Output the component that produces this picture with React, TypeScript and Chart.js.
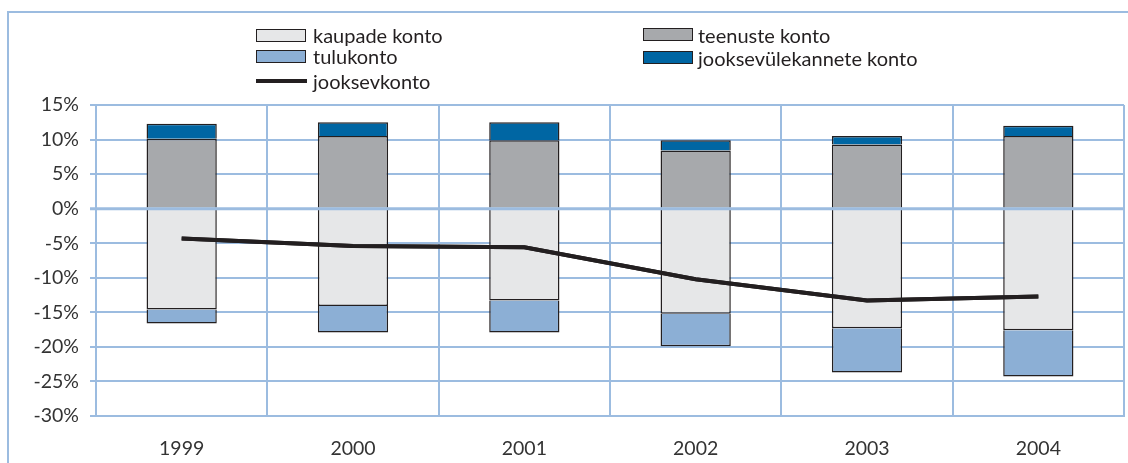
import React, { useEffect, useRef } from "react";
import { Chart, registerables } from "chart.js";

Chart.register(...registerables);

const years = ["1999", "2000", "2001", "2002", "2003", "2004"];
const kaupadeKonto = [-14.6, -14.1, -13.3, -15.2, -17.3, -17.6];
const teenusteKonto = [10.1, 10.5, 9.9, 8.4, 9.3, 10.5];
const tulukonto = [-2.0, -3.8, -4.6, -4.7, -6.4, -6.7];
const jooksevylekanneteKonto = [2.2, 2.0, 2.6, 1.5, 1.2, 1.5];
const jooksevkonto = [-4.3, -5.4, -5.6, -10.2, -13.3, -12.7];
const yMin = -30;
const yMax = 15;
const yStep = 5;

const GRID = "#9cbce0";
const INK = "#231f20";
const FONT = "Lato, 'Open Sans', sans-serif";

const C_KAUP = "#e6e7e8";
const C_TEEN = "#a7a9ac";
const C_TULU = "#8cafd5";
const C_JYL = "#0066a3";

const zeroLinePlugin = {
  id: "zeroLine",
  afterDatasetsDraw(chart: any) {
    const y = chart.scales.y.getPixelForValue(0);
    const { left, right } = chart.chartArea;
    const ctx = chart.ctx;
    ctx.save();
    ctx.strokeStyle = GRID;
    ctx.lineWidth = 3;
    ctx.beginPath();
    ctx.moveTo(left - 6, y);
    ctx.lineTo(right, y);
    ctx.stroke();
    const meta = chart.getDatasetMeta(4);
    if (meta && meta.dataset) meta.dataset.draw(ctx, chart.chartArea);
    ctx.restore();
  },
};

export default function App() {
  const ref = useRef<HTMLCanvasElement | null>(null);

  useEffect(() => {
    if (!ref.current) return;
    const barCommon = {
      type: "bar" as const,
      borderColor: INK,
      borderWidth: 1.5,
      borderSkipped: "start" as const,
      stack: "bars",
      order: 1,
      categoryPercentage: 0.41,
      barPercentage: 1,
    };
    const chart = new Chart(ref.current, {
      type: "bar",
      data: {
        labels: years,
        datasets: [
          { ...barCommon, label: "kaupade konto", data: kaupadeKonto, backgroundColor: C_KAUP },
          { ...barCommon, label: "teenuste konto", data: teenusteKonto, backgroundColor: C_TEEN },
          { ...barCommon, label: "tulukonto", data: tulukonto, backgroundColor: C_TULU },
          { ...barCommon, label: "jooksevülekannete konto", data: jooksevylekanneteKonto, backgroundColor: C_JYL },
          {
            type: "line" as const,
            label: "jooksevkonto",
            data: jooksevkonto,
            borderColor: INK,
            borderWidth: 4,
            pointRadius: 0,
            tension: 0,
            fill: false,
            stack: "line",
            order: 0,
          } as any,
        ],
      },
      plugins: [zeroLinePlugin],
      options: {
        responsive: false,
        animation: false,
        layout: { padding: { left: 0, top: 105, right: 4, bottom: 0 } },
        plugins: {
          legend: { display: false },
          tooltip: { enabled: false },
        },
        scales: {
          x: {
            stacked: true,
            offset: true,
            grid: {
              offset: true,
              color: GRID,
              lineWidth: 2,
              drawTicks: false,
            },
            border: { display: true, color: GRID, width: 2 },
            ticks: {
              color: "#333333",
              font: { family: FONT, size: 19.5 },
              padding: 21,
            },
            afterFit: (s: any) => {
              s.height = 47;
            },
          },
          y: {
            stacked: true,
            min: yMin,
            max: yMax,
            ticks: {
              stepSize: yStep,
              color: "#333333",
              font: { family: FONT, size: 19.5 },
              padding: 11,
              callback: (v: any) => `${v}%`,
            },
            grid: {
              color: GRID,
              lineWidth: 2,
              tickLength: 6,
            },
            border: { display: true, color: GRID, width: 2 },
            afterFit: (s: any) => {
              s.width = 96;
            },
          },
        },
      },
    });
    return () => chart.destroy();
  }, []);

  const legendText: React.CSSProperties = {
    position: "absolute",
    fontFamily: FONT,
    fontSize: 20,
    color: INK,
    lineHeight: "20px",
    whiteSpace: "nowrap",
  };
  const sw = (left: number, top: number, color: string): React.CSSProperties => ({
    position: "absolute",
    left,
    top,
    width: 48,
    height: 11,
    background: color,
    border: `1.5px solid ${INK}`,
  });

  return (
    <div style={{ position: "fixed", left: 0, top: 0, width: 1128, height: 463, background: "#fff", overflow: "hidden" }}>
      <canvas ref={ref} width={1128} height={463} style={{ position: "absolute", left: 0, top: 0 }} />
      <div style={{ position: "absolute", left: 7, top: 11, width: 1121, height: 2, background: GRID }} />
      <div style={{ position: "absolute", left: 7, top: 11, width: 2, height: 452, background: GRID }} />

      <div style={sw(256, 29, C_KAUP)} />
      <div style={{ ...legendText, left: 313, top: 25 }}>kaupade konto</div>
      <div style={sw(256, 50, C_TULU)} />
      <div style={{ ...legendText, left: 313, top: 46 }}>tulukonto</div>
      <div style={{ position: "absolute", left: 256, top: 79, width: 51, height: 4, background: INK }} />
      <div style={{ ...legendText, left: 313, top: 71 }}>jooksevkonto</div>

      <div style={sw(643, 28, C_TEEN)} />
      <div style={{ ...legendText, left: 698, top: 25 }}>teenuste konto</div>
      <div style={sw(643, 51, C_JYL)} />
      <div style={{ ...legendText, left: 698, top: 48 }}>jooksevülekannete konto</div>
    </div>
  );
}
